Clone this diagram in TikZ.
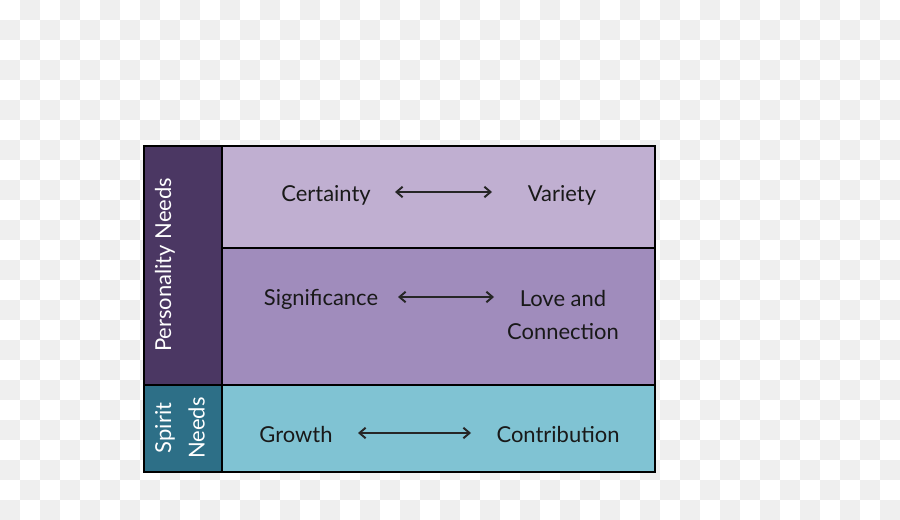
\documentclass[tikz,border=0pt]{standalone}
\usepackage{fontspec}
\setmainfont{Lato}
\usepackage{tikz}
\usetikzlibrary{arrows.meta,positioning,calc}

\definecolor{persdark}{HTML}{4B3763}
\definecolor{spiritdark}{HTML}{2D6F87}
\definecolor{rowone}{HTML}{C0AFD1}
\definecolor{rowtwo}{HTML}{A08CBC}
\definecolor{rowthree}{HTML}{80C3D3}
\definecolor{checker}{HTML}{EFEFEF}

\begin{document}
\begin{tikzpicture}[
    x=0.02cm, y=-0.02cm,
    need/.style={font=\fontsize{12.5}{15}\selectfont, text=black!90, align=center, inner sep=1pt},
    side/.style={font=\fontsize{12.5}{16}\selectfont, text=white, rotate=90, align=center, inner sep=1pt},
    arr/.style={{Straight Barb[length=3.5pt,width=6pt]}-{Straight Barb[length=3.5pt,width=6pt]}, line width=1.1pt, black!85},
    grid/.style={line width=1.4pt, black}
]
\useasboundingbox (0,0) rectangle (900,520);
% checkerboard background
\foreach \i in {0,...,44}{
  \foreach \j in {0,...,25}{
    \pgfmathtruncatemacro\k{\i+\j}
    \ifodd\k \fill[checker] (\i*20,\j*20) rectangle ++(20,20); \fi
  }
}
% cells
\fill[persdark] (144,146) rectangle (222,385);
\fill[spiritdark] (144,385) rectangle (222,472);
\fill[rowone] (222,146) rectangle (655,248);
\fill[rowtwo] (222,248) rectangle (655,385);
\fill[rowthree] (222,385) rectangle (655,472);
\draw[grid] (144,146) rectangle (655,472);
\draw[grid] (222,146) -- (222,472);
\draw[grid] (144,385) -- (655,385);
\draw[grid] (222,248) -- (655,248);

% side labels
\node[side] (pers) at (165,265) {Personality Needs};
\node[side] (spirit) at (180,428) {Spirit\\[3pt]Needs};

% needs
\node[need] (cert) at (326,195) {Certainty};
\node[need] (var) at (562,195) {Variety};
\node[need] (sig) at (321,299) {Significance};
\node[need] (love) at (563,315) {Love and\\[4pt]Connection};
\node[need] (grow) at (296,435) {Growth};
\node[need] (contr) at (558,435) {Contribution};

% arrow ends
\coordinate (a1l) at (395,192);
\coordinate (a1r) at (492,192);
\coordinate (a2l) at (398,297);
\coordinate (a2r) at (494,297);
\coordinate (a3l) at (358,433);
\coordinate (a3r) at (471,433);

\draw[arr] (a1l) -- (a1r);
\draw[arr] (a2l) -- (a2r);
\draw[arr] (a3l) -- (a3r);
\end{tikzpicture}
\end{document}
